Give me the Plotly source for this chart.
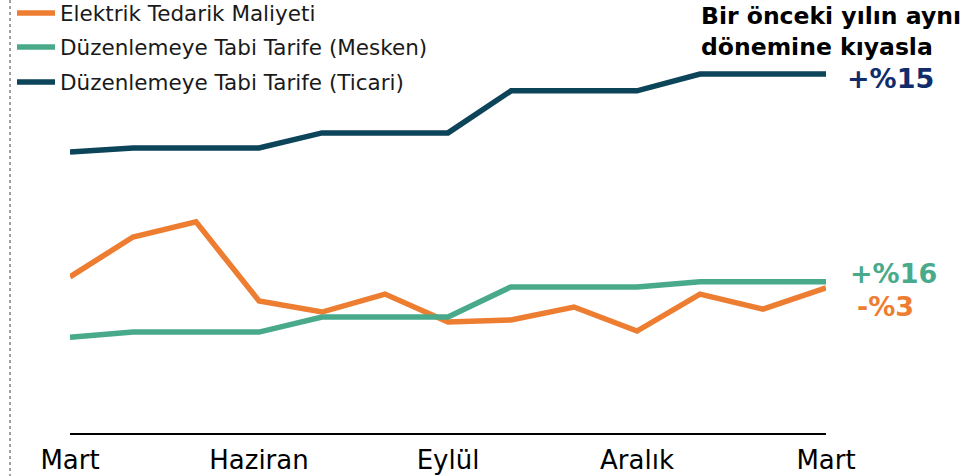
import plotly.graph_objects as go

W, H = 967, 476

# ---- data ----
months = list(range(13))  # Mart (year 1) ... Mart (year 2)
tick_positions = [0, 3, 6, 9, 12]
tick_labels = ["Mart", "Haziran", "Eylül", "Aralık", "Mart"]

series_names = [
    "Elektrik Tedarik Maliyeti",
    "Düzenlemeye Tabi Tarife (Mesken)",
    "Düzenlemeye Tabi Tarife (Ticari)",
]
elektrik = [43.5, 54.6, 58.8, 36.8, 33.7, 38.7, 30.9, 31.5, 35.1, 28.4, 38.7, 34.5, 40.4]
mesken = [26.7, 28.1, 28.1, 28.1, 32.3, 32.3, 32.3, 40.7, 40.7, 40.7, 42.1, 42.1, 42.1]
ticari = [78.3, 79.4, 79.4, 79.4, 83.6, 83.6, 83.6, 95.3, 95.3, 95.3, 100, 100, 100]

change_labels = ["-%3", "+%16", "+%15"]
header_text = "Bir önceki yılın aynı<br>dönemine kıyasla"

# ---- styles ----
colors = ["#ED7D31", "#48AA8A", "#0C4459"]
label_colors = ["#ED7D31", "#48AA8A", "#122C6B"]
FONT = "DejaVu Sans"

ML, MR, MT, MB = 70, 141, 40, 43

def px_x(p):
    return (p - ML) / (W - ML - MR)

def px_y(p):
    return 1 - (p - MT) / (H - MT - MB)

fig = go.Figure()
series = [elektrik, mesken, ticari]
legend_ids = ["legend", "legend2", "legend3"]
for name, vals, col, lid in zip(series_names, series, colors, legend_ids):
    fig.add_trace(go.Scatter(
        x=months, y=vals, mode="lines", name=name,
        line=dict(color=col, width=5.5),
        legend=lid, hoverinfo="skip",
    ))

legend_rows = [13, 47, 82]
legend_common = dict(
    xref="container", yref="container", xanchor="left", yanchor="middle",
    bgcolor="rgba(0,0,0,0)", font=dict(family=FONT, size=21.5, color="#1a1a1a"),
    itemwidth=38, borderwidth=0,
)
layout_legends = {}
for lid, row in zip(legend_ids, legend_rows):
    layout_legends[lid] = dict(x=12 / W, y=1 - row / H, **legend_common)

# right-side change labels
label_pos = [(855, 306), (848, 273), (845, 78)]
annotations = []
for txt, col, (lx, ly) in zip(change_labels, label_colors, label_pos):
    annotations.append(dict(
        text=f"<b>{txt}</b>", xref="paper", yref="paper",
        x=px_x(lx), y=px_y(ly), xanchor="left", yanchor="middle",
        showarrow=False, font=dict(family=FONT, size=27, color=col),
    ))
annotations.append(dict(
    text=f"<b>{header_text}</b>", xref="paper", yref="paper",
    x=px_x(699), y=px_y(31), xanchor="left", yanchor="middle", align="left",
    showarrow=False, font=dict(family=FONT, size=23.5, color="#000000"),
))

fig.update_layout(
    width=W, height=H,
    margin=dict(l=ML, r=MR, t=MT, b=MB, pad=0, autoexpand=False),
    paper_bgcolor="white", plot_bgcolor="white",
    showlegend=True,
    annotations=annotations,
    shapes=[dict(
        type="line", xref="paper", yref="paper",
        x0=px_x(10), x1=px_x(10), y0=px_y(0), y1=px_y(476),
        line=dict(color="#A0A0A0", width=2, dash="dot"),
    )],
    **layout_legends,
)
fig.update_xaxes(
    range=[0, 12], tickmode="array", tickvals=tick_positions, ticktext=tick_labels,
    showgrid=False, zeroline=False, showline=True, linecolor="#000000", linewidth=2,
    ticks="", ticklabelstandoff=3,
    tickfont=dict(family=FONT, size=26, color="#000000"),
)
fig.update_yaxes(
    range=[0, (H - MT - MB) / 3.59], visible=False, showgrid=False, zeroline=False,
)

fig.write_html(
    "out.html",
    config={"displayModeBar": False},
    post_script="document.body.style.margin='0px';document.body.style.overflow='hidden';",
)
